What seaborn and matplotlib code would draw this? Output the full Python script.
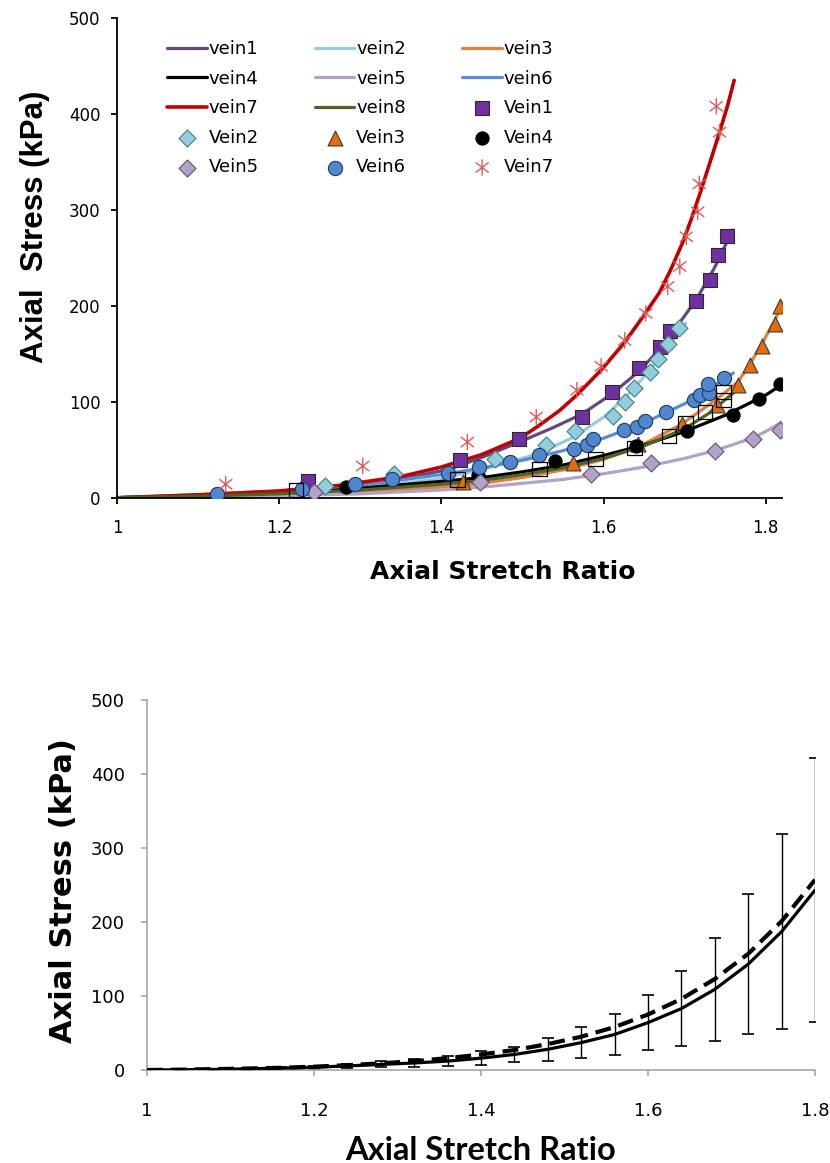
import matplotlib
matplotlib.use("Agg")
import matplotlib.pyplot as plt
import seaborn as sns
import pandas as pd
from matplotlib.path import Path
from matplotlib.ticker import MultipleLocator, FuncFormatter

# ---------------- top chart: fitted curves ----------------
v1_x = [1.0, 1.1, 1.2, 1.3, 1.35, 1.411, 1.45, 1.496, 1.535, 1.573, 1.61, 1.644, 1.669, 1.69, 1.714, 1.737, 1.759]
v1_y = [0, 2.5, 6, 13, 19, 30, 42, 58, 72, 87, 108, 132, 155, 178, 206, 240, 279]
v2_x = [1.0, 1.1, 1.2, 1.3, 1.4, 1.466, 1.52, 1.565, 1.6, 1.63, 1.657, 1.68, 1.701]
v2_y = [0, 2, 5, 10, 20, 33, 46, 64, 84, 107, 133, 157, 182]
v3_x = [1.0, 1.1, 1.2, 1.3, 1.4, 1.45, 1.5, 1.55, 1.6, 1.643, 1.697, 1.74, 1.766, 1.781, 1.795, 1.811, 1.82]
v3_y = [0, 1, 3, 6, 11, 15, 21, 29, 40, 53, 77, 103, 121, 140, 160, 185, 200]
v4_x = [1.0, 1.1, 1.2, 1.3, 1.4, 1.45, 1.5, 1.55, 1.6, 1.65, 1.7, 1.75, 1.8, 1.82]
v4_y = [0, 2, 5, 10, 17, 21, 27, 34, 44, 55, 69, 86, 107, 118]
v5_x = [1.0, 1.1, 1.2, 1.3, 1.4, 1.45, 1.5, 1.55, 1.6, 1.65, 1.7, 1.737, 1.783, 1.8, 1.82]
v5_y = [0, 0.5, 2, 4, 8, 11, 15, 19, 25, 32, 41, 49, 62, 69, 79]
v6_x = [1.0, 1.1, 1.2, 1.3, 1.4, 1.45, 1.5, 1.55, 1.6, 1.65, 1.7, 1.73, 1.76]
v6_y = [0, 3, 7, 13, 24, 31, 39, 49, 62, 78, 98, 113, 130]
v7_x = [1.0, 1.1, 1.2, 1.276, 1.35, 1.4, 1.45, 1.497, 1.52, 1.546, 1.567, 1.597, 1.626, 1.648, 1.669,
        1.683, 1.697, 1.708, 1.72, 1.731, 1.743, 1.753, 1.761]
v7_y = [0, 3, 7, 13, 22, 32, 45, 62, 75, 91, 107, 133, 162, 188, 214, 238, 265, 290, 320, 349, 381, 409, 435]
v8_x = [1.0, 1.1, 1.2, 1.3, 1.4, 1.45, 1.5, 1.55, 1.6, 1.65, 1.7, 1.73, 1.761]
v8_y = [0, 1.5, 4, 8, 14, 18, 24, 31, 41, 54, 72, 88, 110]

# ---------------- top chart: measured points ----------------
d1_x = [1.235, 1.423, 1.496, 1.573, 1.610, 1.644, 1.669, 1.682, 1.714, 1.731, 1.741, 1.752]
d1_y = [17, 39, 61, 84, 110, 135, 157, 174, 205, 227, 253, 273]
d2_x = [1.257, 1.341, 1.466, 1.529, 1.565, 1.612, 1.626, 1.638, 1.657, 1.667, 1.679, 1.693]
d2_y = [12, 25, 40, 55, 70, 85, 100, 114, 131, 145, 160, 177]
d3_x = [1.427, 1.562, 1.643, 1.697, 1.740, 1.766, 1.781, 1.795, 1.811, 1.817]
d3_y = [16, 36, 56, 77, 97, 117, 138, 158, 181, 200]
d4_x = [1.282, 1.445, 1.540, 1.640, 1.703, 1.759, 1.792, 1.817]
d4_y = [11, 24, 38, 54, 70, 86, 103, 118]
d5_x = [1.243, 1.447, 1.585, 1.658, 1.737, 1.784, 1.817]
d5_y = [6, 16, 25, 36, 49, 61, 71]
d6_x = [1.123, 1.228, 1.293, 1.339, 1.408, 1.446, 1.484, 1.520, 1.564, 1.580, 1.587, 1.625,
        1.641, 1.651, 1.677, 1.712, 1.719, 1.730, 1.729, 1.749]
d6_y = [3.5, 9, 14, 20, 26, 32, 37, 44, 51, 55, 61, 70.5, 74, 80, 89, 102, 107, 109, 119, 125]
d7_x = [1.134, 1.303, 1.432, 1.517, 1.567, 1.597, 1.626, 1.652, 1.679, 1.694, 1.702, 1.716, 1.718, 1.739, 1.743]
d7_y = [14, 33, 58, 84, 112, 137, 164, 192, 220, 241, 272, 298, 327, 408, 381]
d8_x = [1.221, 1.420, 1.521, 1.590, 1.638, 1.681, 1.701, 1.725, 1.748, 1.748]
d8_y = [8, 19, 30, 40, 52, 64, 78, 89, 102, 110]

line_labels = ["vein1", "vein2", "vein3", "vein4", "vein5", "vein6", "vein7", "vein8"]
point_labels = ["Vein1", "Vein2", "Vein3", "Vein4", "Vein5", "Vein6", "Vein7"]

# ---------------- bottom chart ----------------
b_x = [1.00, 1.04, 1.08, 1.12, 1.16, 1.20, 1.24, 1.28, 1.32, 1.36, 1.40,
       1.44, 1.48, 1.52, 1.56, 1.60, 1.64, 1.68, 1.72, 1.76, 1.80]
b_mean = [0, 0.3, 0.8, 1.5, 2.5, 3.8, 5.5, 7.5, 9.5, 12, 16,
          21, 28, 37, 48, 64, 83, 109, 143, 187, 243]
b_sd = [0, 0.3, 0.6, 1.0, 1.5, 2.2, 3.0, 4.0, 5.5, 7, 9.5,
        10.5, 15.5, 20.5, 28, 37, 51, 70, 95, 132, 178]
b_dash = [0, 0.5, 1.2, 2, 3, 4.5, 6.5, 9, 12, 16, 21,
          27, 35, 45, 58, 75, 96, 123, 157, 201, 257]

sns.set_style("ticks")
plt.rcParams["font.family"] = ["DejaVu Sans"]
plt.rcParams["text.color"] = "black"
plt.rcParams["axes.labelcolor"] = "black"

fig = plt.figure(figsize=(8.3, 11.63), dpi=100)

# ======================= TOP =======================
ax1 = fig.add_axes([117 / 830, 1 - 497.7 / 1163, (782 - 117) / 830, (497.7 - 18) / 1163])

line_colors = ["#604A7B", "#93CDDD", "#E0823D", "#000000", "#B3A2C7", "#558ED5", "#C00000", "#4F6228"]
line_sets = [(v1_x, v1_y), (v2_x, v2_y), (v3_x, v3_y), (v4_x, v4_y),
             (v5_x, v5_y), (v6_x, v6_y), (v7_x, v7_y), (v8_x, v8_y)]
line_w = [2.3, 2.3, 2.3, 2.3, 2.3, 2.3, 2.6, 2.3]
for (xs, ys), c, lab, lw in zip(line_sets, line_colors, line_labels, line_w):
    df = pd.DataFrame({"x": xs, "y": ys})
    sns.lineplot(data=df, x="x", y="y", ax=ax1, color=c, lw=lw, label=lab,
                 errorbar=None, sort=False, estimator=None, zorder=2)

star = Path([(0, -1), (0, 1), (-0.8, -0.62), (0.8, 0.62), (-0.8, 0.62), (0.8, -0.62)],
            [Path.MOVETO, Path.LINETO, Path.MOVETO, Path.LINETO, Path.MOVETO, Path.LINETO])

pt_sets = [(d1_x, d1_y), (d2_x, d2_y), (d3_x, d3_y), (d4_x, d4_y),
           (d5_x, d5_y), (d6_x, d6_y), (d7_x, d7_y)]
pt_style = [
    dict(marker="s", s=100, color="#7030A0", edgecolor="#2B2B2B", linewidth=0.8),
    dict(marker="D", s=75, color="#92CDDC", edgecolor="#4A7C88", linewidth=0.8),
    dict(marker="^", s=115, color="#E46C0A", edgecolor="#3A3A3A", linewidth=0.8),
    dict(marker="o", s=90, color="#000000", edgecolor="#000000", linewidth=0.8),
    dict(marker="D", s=75, color="#B3A2C7", edgecolor="#5E5470", linewidth=0.8),
    dict(marker="o", s=105, color="#4F86CE", edgecolor="#1F3A60", linewidth=0.8),
    dict(marker=star, s=140, color="#E05A5A", facecolor="none", edgecolor="#E05A5A", linewidth=1.0),
]
for (xs, ys), st, lab in zip(pt_sets, pt_style, point_labels):
    df = pd.DataFrame({"x": xs, "y": ys})
    sns.scatterplot(data=df, x="x", y="y", ax=ax1, label=lab, zorder=3, **st)

df8 = pd.DataFrame({"x": d8_x, "y": d8_y})
sns.scatterplot(data=df8, x="x", y="y", ax=ax1, marker="s", s=105, color="none",
                facecolor="none", edgecolor="#000000", linewidth=0.9, zorder=3)

ax1.set_xlim(1, 1.82)
ax1.set_ylim(0, 500)
ax1.xaxis.set_major_locator(MultipleLocator(0.2))
ax1.yaxis.set_major_locator(MultipleLocator(100))
ax1.xaxis.set_major_formatter(FuncFormatter(lambda v, p: f"{v:g}"))
for s in ["top", "right"]:
    ax1.spines[s].set_visible(False)
for s in ["left", "bottom"]:
    ax1.spines[s].set_color("black")
    ax1.spines[s].set_linewidth(1.3)
ax1.tick_params(axis="both", direction="out", length=4, width=1.3, color="black",
                labelsize=12, labelcolor="black")
ax1.tick_params(axis="x", pad=11)
ax1.tick_params(axis="y", pad=8)
ax1.set_xlabel("Axial Stretch Ratio", fontsize=18, fontweight="bold", color="black")
ax1.xaxis.set_label_coords((503 - 117) / 665, -(560 - 497.7) / 479.7)
ax1.set_ylabel("Axial  Stress (kPa)", fontsize=22.5, fontweight="bold", color="black",
               family=["Liberation Sans", "DejaVu Sans"])
ax1.yaxis.set_label_coords((50 - 117) / 665, (497.7 - 227) / 479.7)

h, l = ax1.get_legend_handles_labels()
order = line_labels + point_labels
hd = dict(zip(l, h))
items = [(hd[k], k) for k in order]
reordered = [items[r * 3 + c] for c in range(3) for r in range(5)]
leg = ax1.legend([a for a, b in reordered], [b for a, b in reordered], ncol=3,
                 loc="upper left", bbox_to_anchor=(158 / 830, 1 - 31 / 1163),
                 bbox_transform=fig.transFigure, frameon=False, fontsize=13,
                 handlelength=2.2, handletextpad=0.1, columnspacing=3.1,
                 labelspacing=0.64, borderpad=0, scatterpoints=1)
for t in leg.get_texts():
    t.set_color("black")

# ======================= BOTTOM =======================
ax2 = fig.add_axes([147 / 830, 1 - 1070 / 1163, (815 - 147) / 830, (1070 - 700) / 1163])
dfb = pd.DataFrame({"x": b_x, "mean": b_mean, "sd": b_sd, "dash": b_dash})
ax2.errorbar(dfb["x"], dfb["mean"], yerr=dfb["sd"], fmt="none", ecolor="black",
             elinewidth=1.0, capsize=4, capthick=1.2, zorder=2)
sns.lineplot(data=dfb, x="x", y="mean", ax=ax2, color="black", lw=2.3,
             errorbar=None, estimator=None, zorder=3)
sns.lineplot(data=dfb, x="x", y="dash", ax=ax2, color="black", lw=3.0,
             linestyle=(0, (3.8, 1.9)), errorbar=None, estimator=None, zorder=3)

ax2.set_xlim(1, 1.8)
ax2.set_ylim(0, 500)
ax2.xaxis.set_major_locator(MultipleLocator(0.2))
ax2.yaxis.set_major_locator(MultipleLocator(100))
ax2.xaxis.set_major_formatter(FuncFormatter(lambda v, p: f"{v:g}"))
for s in ["top", "right"]:
    ax2.spines[s].set_visible(False)
for s in ["left", "bottom"]:
    ax2.spines[s].set_color("#A6A6A6")
    ax2.spines[s].set_linewidth(1.2)
ax2.tick_params(axis="both", direction="out", length=4, width=1.2, color="#A6A6A6",
                labelsize=13, labelcolor="black")
ax2.tick_params(axis="x", pad=19)
ax2.tick_params(axis="y", pad=12)
ax2.set_xlabel("Axial Stretch Ratio", fontsize=23.5, fontweight="bold", color="black",
               family=["Lato", "DejaVu Sans"])
ax2.xaxis.set_label_coords(0.5, -(1136 - 1070) / 370)
ax2.set_ylabel("Axial Stress (kPa)", fontsize=22, fontweight="bold", color="black")
ax2.yaxis.set_label_coords((78 - 147) / 668, (1070 - 891) / 370)

fig.savefig("out.png", dpi=100)
